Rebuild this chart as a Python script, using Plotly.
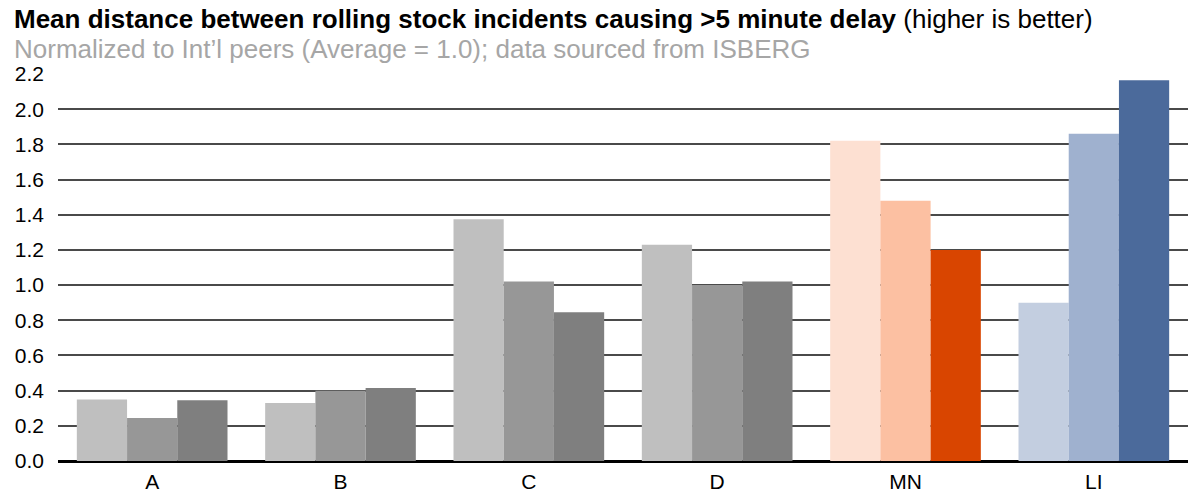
import plotly.graph_objects as go

categories = ["A", "B", "C", "D", "MN", "LI"]
series1 = [0.35, 0.33, 1.375, 1.23, 1.82, 0.90]
series2 = [0.245, 0.40, 1.02, 1.00, 1.48, 1.86]
series3 = [0.345, 0.415, 0.845, 1.02, 1.20, 2.165]

colors1 = ["#BFBFBF", "#BFBFBF", "#BFBFBF", "#BFBFBF", "#FDE0D2", "#C3CEE0"]
colors2 = ["#979797", "#979797", "#979797", "#979797", "#FCC0A2", "#9FB1CF"]
colors3 = ["#7F7F7F", "#7F7F7F", "#7F7F7F", "#7F7F7F", "#D94500", "#4B6A9B"]

W, H = 1188, 494
PL, PR, PT, PB = 58, 1188, 74, 461  # target plot area in page pixels

fig = go.Figure()
for vals, cols, name in [(series1, colors1, "s1"), (series2, colors2, "s2"), (series3, colors3, "s3")]:
    fig.add_trace(go.Bar(x=categories, y=vals, name=name, marker=dict(color=cols, line=dict(width=0))))


def px_to_paper(px, py):
    return (px - PL) / (PR - PL), (PB - py) / (PB - PT)


tx, ty = px_to_paper(12, 19)
sx, sy = px_to_paper(12, 49)

fig.update_layout(
    width=W, height=H,
    margin=dict(l=PL, r=W - PR, t=PT, b=H - PB),
    barmode="group", bargap=0.2, bargroupgap=0,
    plot_bgcolor="white", paper_bgcolor="white",
    showlegend=False,
    font=dict(family="Liberation Sans, Arial, sans-serif", size=21, color="black"),
    xaxis=dict(showgrid=False, ticks="", tickfont=dict(size=21), showline=False,
               ticklabelstandoff=6),
    yaxis=dict(range=[0, 2.2], dtick=0.2, tickformat=".1f", showgrid=True,
               gridcolor="#4A4A4A", gridwidth=2, zeroline=True, zerolinecolor="black",
               zerolinewidth=3, ticks="", ticklabelstandoff=13, tickfont=dict(size=21)),
    annotations=[
        dict(text="<b>Mean distance between rolling stock incidents causing >5 minute delay</b> (higher is better)",
             x=tx, y=ty, xref="paper", yref="paper", showarrow=False,
             xanchor="left", yanchor="middle", font=dict(size=26, color="black")),
        dict(text="Normalized to Int\u2019l peers (Average = 1.0); data sourced from ISBERG",
             x=sx, y=sy, xref="paper", yref="paper", showarrow=False,
             xanchor="left", yanchor="middle", font=dict(size=26, color="#A6A6A6")),
    ],
)
fig.write_html("out.html", config={"displayModeBar": False},
               post_script="document.body.style.margin='0';document.body.style.overflow='hidden';")
